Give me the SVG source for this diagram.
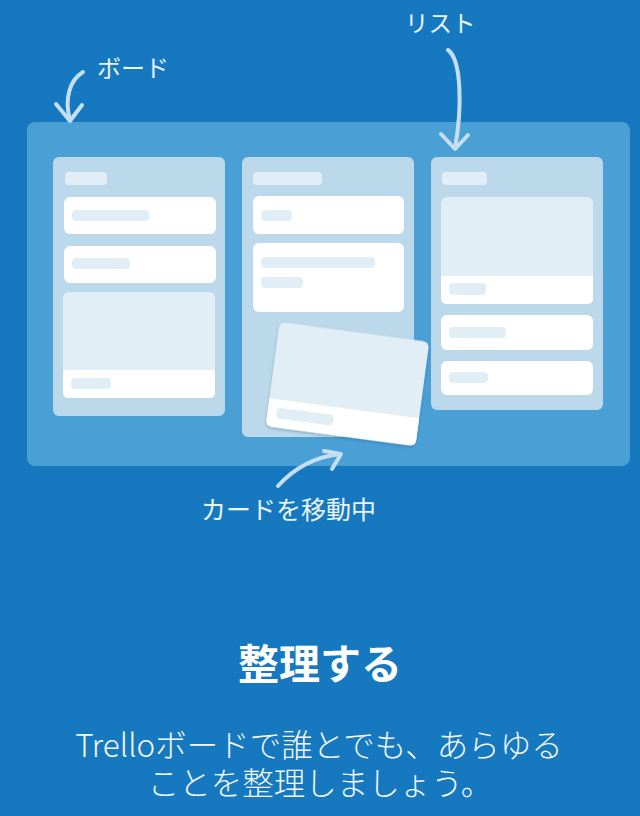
<svg xmlns="http://www.w3.org/2000/svg" width="640" height="816" viewBox="0 0 640 816">
<style>
.list{fill:#BCD9EB}
.card{fill:#FFFFFF}
.lt{fill:#E1EEF6}
.arrow{fill:none;stroke:#C3DFF1;stroke-width:4;stroke-linecap:round;stroke-linejoin:round}
.lbl{font-family:"Noto Sans CJK JP","Noto Sans",sans-serif;fill:#EAF3FA}
.body{font-family:"Noto Sans CJK JP",sans-serif;font-weight:300;font-size:31.5px;fill:#F2F7FB}
</style>
<defs>
<filter id="sh" x="-10%" y="-10%" width="120%" height="130%">
<feDropShadow dx="0" dy="1.5" stdDeviation="1.5" flood-color="#0B4E80" flood-opacity="0.35"/>
</filter>
</defs>
<rect x="0" y="0" width="640" height="816" fill="#1679BF"/>
<g id="board">
<rect x="27" y="122" width="603" height="344" rx="8" fill="#4A9FD5"/>
</g>
<g id="list1">
<rect class="list" x="53" y="157" width="172" height="259" rx="6"/>
<rect class="lt" x="65" y="172" width="42" height="13" rx="4"/>
<rect class="card" x="64" y="197" width="152" height="37" rx="6"/>
<rect class="lt" x="72" y="210" width="77" height="11" rx="4"/>
<rect class="card" x="64" y="246" width="152" height="37" rx="6"/>
<rect class="lt" x="72" y="258" width="58" height="11" rx="4"/>
<rect class="lt" x="63" y="292" width="152" height="106" rx="6"/>
<path class="card" d="M63,370 H215 V392 Q215,398 209,398 H69 Q63,398 63,392 Z"/>
<rect class="lt" x="71" y="378" width="40" height="11" rx="4"/>
</g>
<g id="list2">
<rect class="list" x="242" y="157" width="172" height="280" rx="6"/>
<rect class="lt" x="253" y="172" width="69" height="13" rx="4"/>
<rect class="card" x="253" y="196" width="151" height="38" rx="6"/>
<rect class="lt" x="261" y="210" width="31" height="11" rx="4"/>
<rect class="card" x="253" y="243" width="151" height="69" rx="6"/>
<rect class="lt" x="261" y="257" width="114" height="11" rx="4"/>
<rect class="lt" x="261" y="277" width="42" height="11" rx="4"/>
</g>
<g id="list3">
<rect class="list" x="431" y="157" width="172" height="253" rx="6"/>
<rect class="lt" x="442" y="172" width="45" height="13" rx="4"/>
<rect class="lt" x="441" y="197" width="152" height="107" rx="6"/>
<path class="card" d="M441,276 H593 V298 Q593,304 587,304 H447 Q441,304 441,298 Z"/>
<rect class="lt" x="449" y="283" width="37" height="12" rx="4"/>
<rect class="card" x="441" y="315" width="152" height="35" rx="6"/>
<rect class="lt" x="449" y="327" width="57" height="11" rx="4"/>
<rect class="card" x="441" y="361" width="152" height="34" rx="6"/>
<rect class="lt" x="449" y="372" width="39" height="11" rx="4"/>
</g>
<g id="moving-card" transform="rotate(7.6 347.5 384)">
<rect class="lt" x="272" y="331.5" width="151" height="105" rx="6" filter="url(#sh)"/>
<path class="card" d="M272,408.5 H423 V430.5 Q423,436.5 417,436.5 H278 Q272,436.5 272,430.5 Z"/>
<rect class="lt" x="281" y="416.5" width="57" height="11" rx="4"/>
</g>
<g id="connectors">
<path class="arrow" d="M83,72 C70,80 64,98 70,120"/>
<path class="arrow" d="M56,104 L70,121 L82,105"/>
<path class="arrow" d="M448,50 C462,60 462,110 455,148"/>
<path class="arrow" d="M441,134 L455,149 L468,135"/>
<path class="arrow" d="M278,486 C295,467 315,457 340,454"/>
<path class="arrow" d="M324,451 L341,454 L332,469"/>
</g>
<g id="labels">
<text class="lbl" x="97" y="77" font-size="24">ボード</text>
<text class="lbl" x="405" y="32" font-size="23.5">リスト</text>
<text class="lbl" x="201" y="519" font-size="25">カードを移動中</text>
</g>
<g id="caption">
<text x="320" y="679" text-anchor="middle" font-family="Noto Sans CJK JP,sans-serif" font-weight="700" font-size="41" fill="#FFFFFF">整理する</text>
<text class="body" x="319" y="757" text-anchor="middle">Trelloボードで誰とでも、あらゆる</text>
<text class="body" x="320" y="795" text-anchor="middle">ことを整理しましょう。</text>
</g>
</svg>
